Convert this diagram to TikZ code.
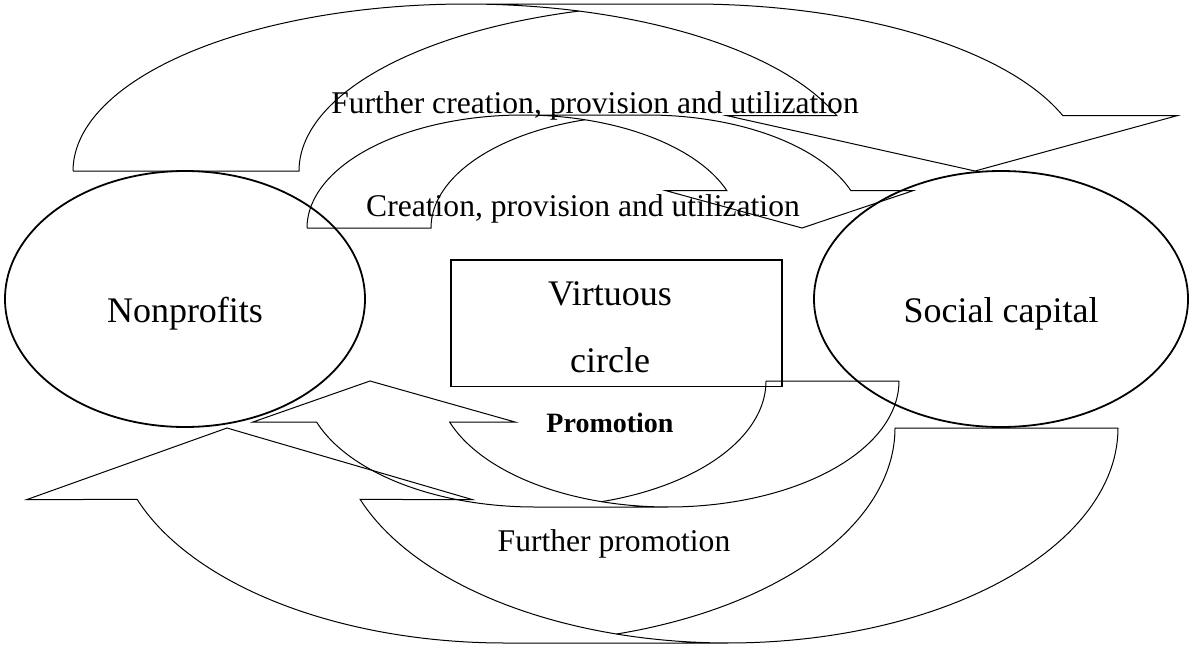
\documentclass[tikz,border=0pt]{standalone}
\usepackage{fontspec}
\setmainfont{Liberation Serif}
\usetikzlibrary{shapes.geometric}

\tikzset{
    band/.style={line width=0.5pt, samples=100},
    bubble/.style={ellipse, draw, line width=0.9pt, inner sep=0pt, minimum height=128pt},
    bigtext/.style={font=\fontsize{18}{22}\selectfont, anchor=base, inner sep=0pt},
    midtext/.style={font=\fontsize{15.8}{19}\selectfont, anchor=base, inner sep=0pt},
}

\begin{document}
\begin{tikzpicture}[x=0.5pt, y=-0.5pt]
    \useasboundingbox (0,0) rectangle (1192,648);

    \node[bubble, minimum width=180pt] (np) at (185,299) {};
    \node[bubble, minimum width=187pt] (sc) at (1001,299) {};
    \node[draw, line width=0.6pt, minimum width=165.5pt, minimum height=63.25pt] (vc) at (616.5,323.25) {};

    \node[bigtext] (nplabel) at (185,322) {Nonprofits};
    \node[bigtext] (sclabel) at (1001,322) {Social capital};
    \node[bigtext] (vclabel1) at (610,305) {Virtuous};
    \node[bigtext] (vclabel2) at (610,372) {circle};

    \draw[band] plot[domain=180:340.67] ({466+393*cos(\x)}, {171+167*sin(\x)})
        -- (727,115.7) -- (975,171) -- (1177,115.7)
        -- plot[domain=340.67:270] ({692+393*cos(\x)}, {171+167*sin(\x)}) -- (466,4);
    \draw[band] (73,171) -- plot[domain=180:253.3] ({692+393*cos(\x)}, {171+167*sin(\x)});

    \draw[band] plot[domain=180:340.73] ({523+216*cos(\x)}, {228+113*sin(\x)})
        -- (666,190.7) -- (802,228) -- (913,190.7)
        -- plot[domain=340.73:270] ({647+216*cos(\x)}, {228+113*sin(\x)}) -- (523,115);
    \draw[band] (307,228) -- plot[domain=180:253.3] ({647+216*cos(\x)}, {228+113*sin(\x)});

    \draw[band] plot[domain=0:161.01] ({668+231*cos(\x)}, {381+126*sin(\x)})
        -- (515,422) -- (370,381) -- (253,422)
        -- plot[domain=161.01:90] ({535+231*cos(\x)}, {381+126*sin(\x)}) -- (668,507);
    \draw[band] (899,381) -- plot[domain=0:73.27] ({535+231*cos(\x)}, {381+126*sin(\x)});

    \draw[band] plot[domain=0:160.58] ({728+390*cos(\x)}, {428+215*sin(\x)})
        -- (472,499.5) -- (227,428) -- (27,499.5)
        -- plot[domain=160.58:90] ({505+390*cos(\x)}, {428+215*sin(\x)}) -- (728,643);
    \draw[band] (1118,428) -- plot[domain=0:73.39] ({505+390*cos(\x)}, {428+215*sin(\x)});

    \node[midtext] (further) at (595,113) {Further creation, provision and utilization};
    \node[midtext] (creation) at (583,216.7) {Creation, provision and utilization};
    \node[anchor=base, inner sep=0pt, font=\bfseries\fontsize{14}{17}\selectfont] (promo) at (610,432) {Promotion};
    \node[midtext] (furtherpromo) at (614,551.7) {Further promotion};
\end{tikzpicture}
\end{document}
